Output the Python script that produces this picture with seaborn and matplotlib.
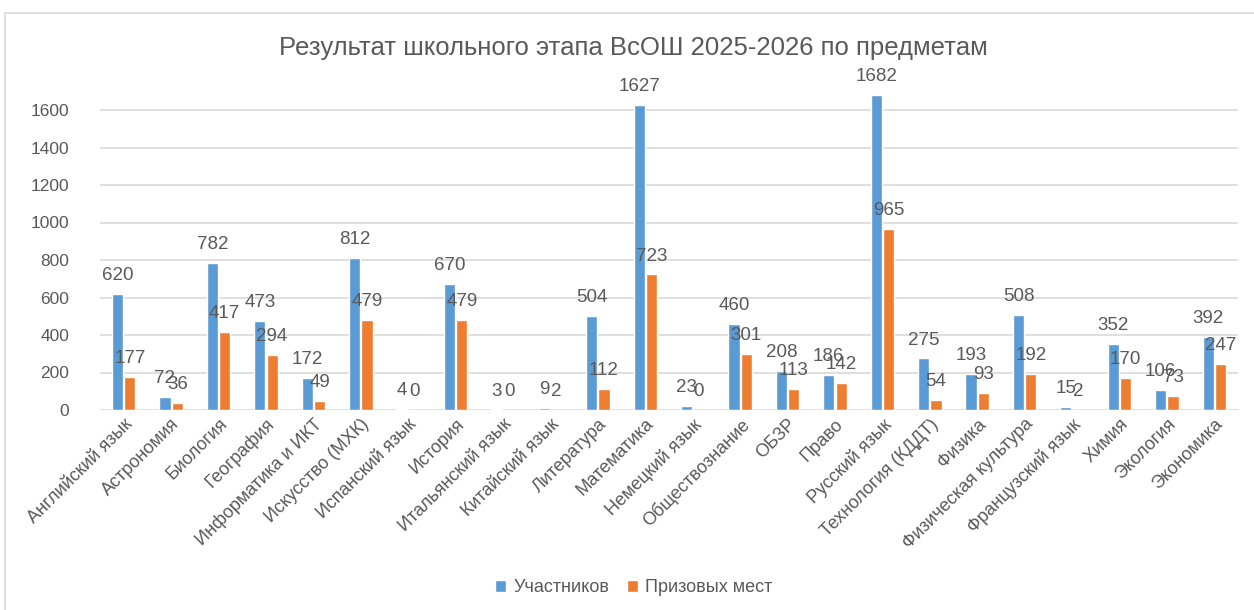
import matplotlib
matplotlib.use("Agg")
import matplotlib.pyplot as plt
import seaborn as sns
import pandas as pd
from matplotlib.patches import Rectangle

subjects = ["Английский язык", "Астрономия", "Биология", "География",
            "Информатика и ИКТ", "Искусство (МХК)", "Испанский язык", "История",
            "Итальянский язык", "Китайский язык", "Литература", "Математика",
            "Немецкий язык", "Обществознание", "ОБЗР", "Право", "Русский язык",
            "Технология (КДДТ)", "Физика", "Физическая культура",
            "Французский язык", "Химия", "Экология", "Экономика"]
participants = [620, 72, 782, 473, 172, 812, 4, 670, 3, 9, 504, 1627, 23, 460,
                208, 186, 1682, 275, 193, 508, 15, 352, 106, 392]
prizes = [177, 36, 417, 294, 49, 479, 0, 479, 0, 2, 112, 723, 0, 301,
          113, 142, 965, 54, 93, 192, 2, 170, 73, 247]
series_names = ["Участников", "Призовых мест"]
title = "Результат школьного этапа ВсОШ 2025-2026 по предметам"

df = pd.DataFrame({
    "Предмет": subjects * 2,
    "Серия": [series_names[0]] * len(subjects) + [series_names[1]] * len(subjects),
    "Значение": participants + prizes,
})

sns.set_theme(style="white")
plt.rcParams["font.family"] = ["Liberation Sans", "DejaVu Sans"]
TXT = "#595959"

W, H = 1254, 610
fig = plt.figure(figsize=(W / 100, H / 100), dpi=100)
ax = fig.add_axes([100 / W, (H - 410) / H, 1138 / W, 330 / H])

# outer chart border
fig.patches.append(Rectangle((5 / W, -0.1), 1.2, (H - 13) / H + 0.1,
                             transform=fig.transFigure, fill=False,
                             edgecolor="#D9D9D9", linewidth=1.2))

sns.barplot(data=df, x="Предмет", y="Значение", hue="Серия",
            palette=["#5B9BD5", "#ED7D31"], width=0.52, gap=0.1,
            ax=ax, legend=True, saturation=1)

ax.set_ylim(0, 1760)
ax.set_yticks(range(0, 1601, 200))
ax.set_xlim(-0.5, len(subjects) - 0.5)
for y in range(0, 1601, 200):
    ax.axhline(y, color="#D9D9D9", linewidth=1.2, zorder=0)
for s in ax.spines.values():
    s.set_visible(False)
ax.set_xlabel("")
ax.set_ylabel("")
ax.tick_params(axis="y", labelsize=12.5, labelcolor=TXT, pad=22, length=0)
ax.tick_params(axis="x", labelsize=13, labelcolor=TXT, pad=4, length=0)
ax.set_xticks(range(len(subjects)))
ax.set_xticklabels(subjects, rotation=45, ha="right", rotation_mode="anchor")

for cont in ax.containers:
    for rect in cont:
        h = rect.get_height()
        ax.annotate(f"{int(round(h))}",
                    (rect.get_x() + rect.get_width() / 2, h),
                    xytext=(0, 10), textcoords="offset points",
                    ha="center", va="baseline", fontsize=13.5, color=TXT)

leg = ax.legend(loc="center", bbox_to_anchor=((634 - 100) / 1138, (588 - 410) / -330.0),
                ncol=2, frameon=False, fontsize=13, handlelength=0.6,
                handleheight=0.6, handletextpad=0.4, columnspacing=1.0)
for t in leg.get_texts():
    t.set_color(TXT)

fig.text(633 / W, 1 - 48 / H, title, ha="center", va="center",
         fontsize=18.5, color=TXT)

fig.savefig("out.png", dpi=100, facecolor="white")
